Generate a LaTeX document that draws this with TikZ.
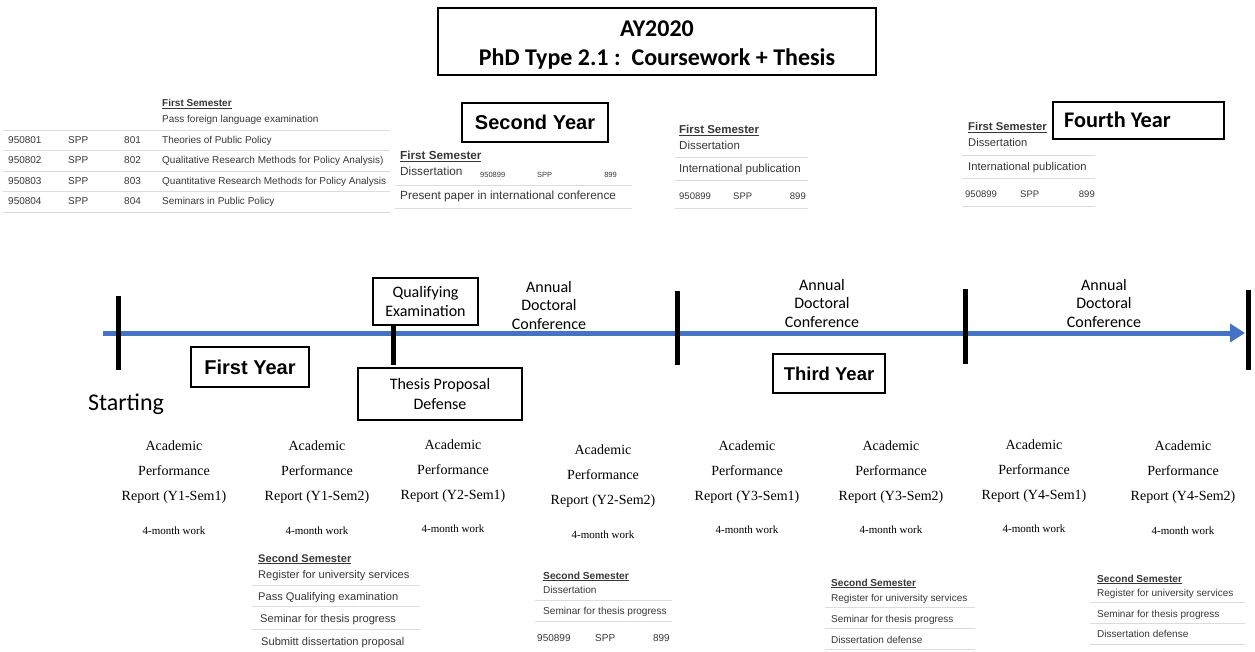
\documentclass[tikz,border=0pt]{standalone}
\usepackage{fontspec}
\setmainfont{Liberation Serif}
\newfontfamily\arialf{Liberation Sans}
\newfontfamily\calf{Carlito}
\usetikzlibrary{arrows.meta}
\definecolor{tlblue}{RGB}{68,114,196}
\definecolor{txtgray}{RGB}{55,55,55}
\definecolor{rulegray}{RGB}{220,220,220}
\begin{document}
\begin{tikzpicture}[x=1pt,y=-1pt,
  tb/.style={font=\arialf\fontsize{#1}{#1}\selectfont, text=txtgray, anchor=base west, inner sep=0pt},
  tb/.default=10,
  tbr/.style={tb=#1, anchor=base east},
  tbr/.default=10,
  hd/.style={font=\arialf\bfseries\fontsize{#1}{#1}\selectfont, text=txtgray, anchor=base west, inner sep=0pt},
  hd/.default=10,
  rl/.style={draw=rulegray, line width=0.8pt},
  yearbox/.style={draw, line width=1.2pt, font=\arialf\bfseries\fontsize{20}{24}\selectfont, inner sep=0pt},
  evbox/.style={draw, line width=1.2pt, font=\calf\fontsize{16}{19.5}\selectfont, align=center, inner sep=0pt},
  conf/.style={font=\calf\fontsize{16}{18.5}\selectfont, align=center, inner sep=0pt},
  tick/.style={line width=5pt, black},
  apr/.style={font=\fontsize{14}{25}\selectfont, align=center, inner sep=0pt},
  work/.style={font=\fontsize{11}{12}\selectfont, inner sep=0pt}
]
\useasboundingbox (0,0) rectangle (1255,652);

% Title
\node[draw, line width=1.2pt, minimum width=438pt, minimum height=67pt, inner sep=0pt] (title) at (657,41.5) {};
\node[font=\calf\bfseries\fontsize{24}{29}\selectfont, align=center, inner sep=0pt] (titletxt) at (657,45) {AY2020\\PhD Type 2.1 :\ \ Coursework + Thesis};

% Top-left table (first year, first semester)
\node[hd] (t1h) at (162,107) {\underline{First Semester}};
\node[tb] (t1a) at (162,123) {Pass foreign language examination};
\draw[rl] (3,130) -- (390,130);
\foreach \yy/\cc/\nn/\tt in {144/950801/801/Theories of Public Policy, 164/950802/802/Qualitative Research Methods for Policy Analysis), 185/950803/803/Quantitative Research Methods for Policy Analysis, 205/950804/804/Seminars in Public Policy}{
  \node[tb] at (8,\yy) {\cc};
  \node[tb] at (68,\yy) {SPP};
  \node[tb] at (124,\yy) {\nn};
  \node[tb] at (162,\yy) {\tt};
}
\foreach \yy in {150,171,191,212}{\draw[rl] (3,\yy) -- (390,\yy);}

% Second year
\node[yearbox, minimum width=146pt, minimum height=39pt] (y2) at (535,122.5) {Second Year};
\node[hd=11.7] (t2h) at (400,160) {\underline{First Semester}};
\node[tb=11.8] (t2a) at (400,176) {Dissertation};
\node[tb=7.5] at (480,178) {950899};
\node[tb=7.5] at (537,178) {SPP};
\node[tbr=7.5] at (617,178) {899};
\draw[rl] (395,185) -- (632,185);
\node[tb=11.8] (t2b) at (400,200) {Present paper in international conference};
\draw[rl] (395,208) -- (632,208);

% Third year first semester
\node[hd=11.5] (t3h) at (679,134) {\underline{First Semester}};
\node[tb=11.5] (t3a) at (679,150) {Dissertation};
\draw[rl] (675,157) -- (808,157);
\node[tb=11.5] (t3b) at (679,173) {International publication};
\draw[rl] (675,180) -- (808,180);
\node[tb=9.5] at (679,200) {950899};
\node[tb=9.5] at (733,200) {SPP};
\node[tbr=9.5] at (806,200) {899};
\draw[rl] (675,208) -- (808,208);

% Fourth year
\node[draw, line width=1.2pt, minimum width=171pt, minimum height=37pt, inner sep=0pt] (y4) at (1138.5,120.5) {};
\node[font=\calf\bfseries\fontsize{22.3}{26}\selectfont, anchor=west, inner sep=0pt] (y4t) at (1064,120) {Fourth Year};
\node[hd=11.3] (t4h) at (968,131) {\underline{First Semester}};
\node[tb=11.2] (t4a) at (968,147) {Dissertation};
\draw[rl] (962,155) -- (1095,155);
\node[tb=11.2] (t4b) at (968,171) {International publication};
\draw[rl] (962,178) -- (1095,178);
\node[tb=9.5] at (965,198) {950899};
\node[tb=9.5] at (1020,198) {SPP};
\node[tbr=9.5] at (1095,198) {899};
\draw[rl] (962,206) -- (1095,206);

% Timeline
\coordinate (tlS) at (103,333);
\coordinate (tlE) at (1245,333);
\draw[tlblue, line width=5pt, -{Triangle[length=15pt,width=18pt]}] (tlS) -- (tlE);

\coordinate (k1a) at (118,296); \coordinate (k1b) at (118,370);
\coordinate (k2a) at (393,325); \coordinate (k2b) at (393,365);
\coordinate (k3a) at (677,291); \coordinate (k3b) at (677,365);
\coordinate (k4a) at (965,289); \coordinate (k4b) at (965,364);
\coordinate (k5a) at (1248,290); \coordinate (k5b) at (1248,370);
\draw[tick] (k1a) -- (k1b);
\draw[tick] (k2a) -- (k2b);
\draw[tick] (k3a) -- (k3b);
\draw[tick] (k4a) -- (k4b);
\draw[tick] (k5a) -- (k5b);

\node[font=\calf\fontsize{24}{28}\selectfont, inner sep=0pt] (start) at (126,404) {Starting};
\node[yearbox, minimum width=118pt, minimum height=40pt] (y1) at (250,367) {First Year};
\node[evbox, minimum width=105pt, minimum height=47pt, fill=white] (qe) at (425.5,301.5) {Qualifying\\Examination};
\node[evbox, minimum width=164pt, minimum height=52pt] (tpd) at (440,394) {Thesis Proposal\\Defense};
\node[conf] (c1) at (549,305) {Annual\\Doctoral\\Conference};
\node[conf] (c2) at (822,303) {Annual\\Doctoral\\Conference};
\node[conf] (c3) at (1104,303) {Annual\\Doctoral\\Conference};
\node[yearbox, minimum width=112pt, minimum height=39pt, font=\arialf\bfseries\fontsize{18.5}{22}\selectfont] (y3) at (829,373.5) {Third Year};

% Academic performance reports
\foreach \xx/\ym/\yw/\lab [count=\i] in {174/472/531/Y1-Sem1, 317/472/531/Y1-Sem2, 453/471/529/Y2-Sem1, 603/476/535/Y2-Sem2, 747/472/530/Y3-Sem1, 891/472/530/Y3-Sem2, 1034/471/529/Y4-Sem1, 1183/472/531/Y4-Sem2}{
  \node[apr] (apr\i) at (\xx,\ym) {Academic\\Performance\\Report (\lab)};
  \node[work] (work\i) at (\xx,\yw) {4-month work};
}

% Bottom: Y1 second semester
\node[hd=11.1] (b1h) at (258,562) {\underline{Second Semester}};
\node[tb=11.1] at (258,578) {Register for university services};
\draw[rl] (252,585) -- (420,585);
\node[tb=11.1] at (258,600) {Pass Qualifying examination};
\draw[rl] (252,606) -- (420,606);
\node[tb=11.1] at (260,622) {Seminar for thesis progress};
\draw[rl] (252,629) -- (420,629);
\node[tb=11.1] at (261,645) {Submitt dissertation proposal};

% Bottom: Y2 second semester
\node[hd=10.2] (b2h) at (543,579) {\underline{Second Semester}};
\node[tb=10.1] at (543,593) {Dissertation};
\draw[rl] (535,600) -- (672,600);
\node[tb=10.1] at (543,614) {Seminar for thesis progress};
\draw[rl] (535,621) -- (672,621);
\node[tb=10] at (537,641) {950899};
\node[tb=10] at (595,641) {SPP};
\node[tbr=10] at (670,641) {899};

% Bottom: Y3 second semester
\node[hd=10.1] (b3h) at (831,586) {\underline{Second Semester}};
\node[tb=10] at (831,601) {Register for university services};
\draw[rl] (825,607) -- (975,607);
\node[tb=10] at (831,622) {Seminar for thesis progress};
\draw[rl] (825,628) -- (975,628);
\node[tb=10] at (831,643) {Dissertation defense};
\draw[rl] (825,649) -- (975,649);

% Bottom: Y4 second semester
\node[hd=10.1] (b4h) at (1097,582) {\underline{Second Semester}};
\node[tb=10] at (1097,596) {Register for university services};
\draw[rl] (1090,602) -- (1245,602);
\node[tb=10] at (1097,617) {Seminar for thesis progress};
\draw[rl] (1090,623) -- (1245,623);
\node[tb=10] at (1097,637) {Dissertation defense};
\draw[rl] (1090,644) -- (1245,644);
\end{tikzpicture}
\end{document}
